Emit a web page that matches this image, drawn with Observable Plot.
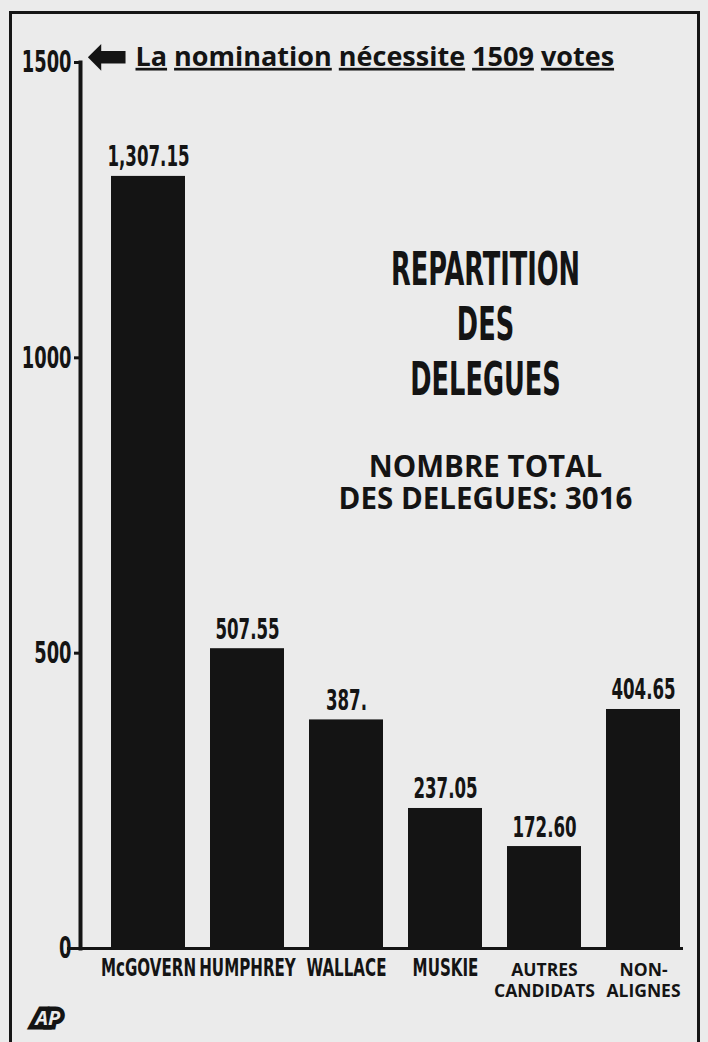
<!DOCTYPE html>
<html><head><meta charset="utf-8">
<script src="https://cdn.jsdelivr.net/npm/d3@7"></script>
<script src="https://cdn.jsdelivr.net/npm/@observablehq/plot@0.6"></script>
<style>
html,body{margin:0;padding:0;background:#ebebeb;}
#wrap{position:relative;width:708px;height:1042px;overflow:hidden;}
#border{position:absolute;left:9px;top:11px;width:685px;height:1040px;border:3px solid #151515;pointer-events:none;}
</style></head><body><div id="wrap"><div id="chart"></div><div id="border"></div></div>
<script>
const categories = ["McGOVERN","HUMPHREY","WALLACE","MUSKIE","AUTRES CANDIDATS","NON-ALIGNES"];
const labels = ["McGOVERN","HUMPHREY","WALLACE","MUSKIE","AUTRES\nCANDIDATS","NON-\nALIGNES"];
const delegates = [1307.15, 507.55, 387, 237.05, 172.60, 404.65];
const valueLabels = ["1,307.15","507.55","387.","237.05","172.60","404.65"];
const yTicks = [0, 500, 1000, 1500];
const nominationVotes = 1509;
const headline = "La nomination nécessite 1509 votes";
const title = "REPARTITION\nDES\nDELEGUES";
const subtitle = "NOMBRE TOTAL\nDES DELEGUES: 3016";
const credit = "AP";

const data = categories.map((c, i) => ({category: c, label: labels[i], value: delegates[i], valueLabel: valueLabels[i]}));
const INK = "#141414";
const NARROW = "'Liberation Sans Narrow','DejaVu Sans Condensed',sans-serif";
const WIDE = "'Open Sans','DejaVu Sans',sans-serif";

const svg = Plot.plot({
  width: 708, height: 1042,
  marginLeft: 80, marginRight: 0, marginTop: 62, marginBottom: 94,
  style: {background: "transparent", fontFamily: NARROW, fontWeight: "bold", fontSize: "29px", color: INK},
  x: {domain: categories, range: [80, 712], padding: 0.25, paddingOuter: 0.31, axis: null},
  y: {domain: [0, 1500], axis: null},
  marks: [
    Plot.barY(data, {x: "category", y: "value", fill: INK}),
    Plot.ruleY([0], {stroke: INK, strokeWidth: 3, insetLeft: -13, insetRight: 25}),
    Plot.frame({anchor: "left", stroke: INK, strokeWidth: 4}),
    Plot.axisY({ticks: yTicks, label: null, tickFormat: d => String(d), tickSize: 6, tickPadding: 3, stroke: INK, strokeWidth: 3, fill: INK, fontSize: 31}),
    Plot.text([nominationVotes], {y: d => d, text: () => "⬅", frameAnchor: "left", textAnchor: "start", dx: 6, fontFamily: "DejaVu Sans", fontSize: 50, fill: INK}),
    Plot.text([nominationVotes], {y: d => d, text: () => headline, frameAnchor: "left", textAnchor: "start", dx: 55, fontFamily: WIDE, fontWeight: 700, fontSize: 27, fill: INK, ariaDescription: "headline"}),
    Plot.text(data, {x: "category", y: "value", text: "valueLabel", dy: -10, lineAnchor: "bottom", fontSize: 28, fill: INK, ariaDescription: "vals"}),
    Plot.text(data.filter(d => !d.label.includes("\n")), {x: "category", text: "label", frameAnchor: "bottom", lineAnchor: "top", dy: 10, fontSize: 24, fill: INK, ariaDescription: "cats"}),
    Plot.text(data.filter(d => d.label.includes("\n")), {x: "category", text: "label", frameAnchor: "bottom", lineAnchor: "top", dy: 13, fontFamily: WIDE, fontWeight: 700, fontSize: 17.5, lineHeight: 1.2, fill: INK}),
    Plot.text([title], {text: d => d, frameAnchor: "top", dx: 91, dy: 184, lineAnchor: "top", fontSize: 46, lineHeight: 1.19, fill: INK, ariaDescription: "title"}),
    Plot.text([subtitle], {text: d => d, frameAnchor: "top", dx: 91, dy: 391, lineAnchor: "top", fontFamily: WIDE, fontWeight: 700, fontSize: 29.5, lineHeight: 1.1, fill: INK}),
    Plot.text([credit], {text: d => d, frameAnchor: "bottom-left", dx: -45, dy: 76, fontFamily: WIDE, fontWeight: 700, fontStyle: "italic", fontSize: 20, fill: "#ebebeb", stroke: INK, strokeWidth: 9, strokeLinejoin: "miter"})
  ]
});
document.getElementById("chart").appendChild(svg);

function squeeze(sel, s) {
  svg.querySelectorAll(sel).forEach(t => {
    t.setAttribute("transform", (t.getAttribute("transform") || "") + ` scale(${s},1)`);
  });
}
squeeze('g[aria-label="y-axis tick label"] text', 0.64);
squeeze('g[aria-description="vals"] text', 0.66);
squeeze('g[aria-description="cats"] text', 0.7);
squeeze('g[aria-description="title"] text', 0.62);

const ht = svg.querySelector('g[aria-description="headline"] text');
if (ht) {
  ht.textContent = "";
  headline.split(" ").forEach((w, i) => {
    if (i) ht.appendChild(document.createTextNode(" "));
    const ts = document.createElementNS("http://www.w3.org/2000/svg", "tspan");
    ts.textContent = w;
    ts.setAttribute("style", "text-decoration: underline; text-decoration-thickness: 3px; text-underline-offset: 4px;");
    ht.appendChild(ts);
  });
}
</script></body></html>
